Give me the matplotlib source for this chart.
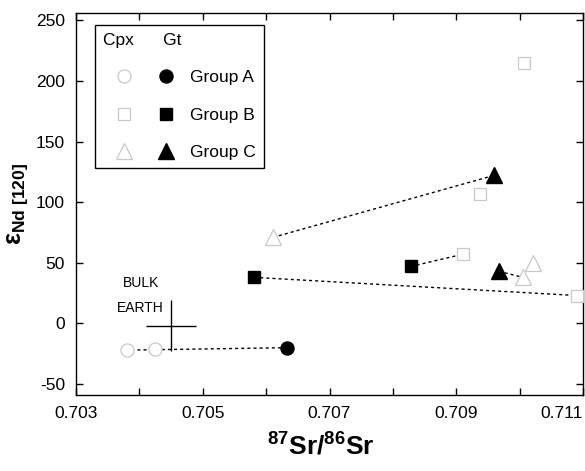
import numpy as np
import matplotlib
matplotlib.use("Agg")
import matplotlib.pyplot as plt
from matplotlib.legend_handler import HandlerTuple

plt.rcParams["font.family"] = ["Liberation Sans", "DejaVu Sans"]
plt.rcParams["mathtext.fontset"] = "custom"
plt.rcParams["mathtext.rm"] = "Liberation Sans"
plt.rcParams["mathtext.bf"] = "Liberation Sans:bold"
plt.rcParams["mathtext.it"] = "Liberation Sans:italic"
plt.rcParams["axes.unicode_minus"] = False

# garnet (filled) and clinopyroxene (open) analyses, 87Sr/86Sr vs eps Nd(120)
gt_a_x = [0.70633]
gt_a_y = [-20]
gt_b_x = [0.70581, 0.70828]
gt_b_y = [38, 47]
gt_c_x = [0.70959, 0.70967]
gt_c_y = [122, 43]

cpx_a_x = [0.70380, 0.70425]
cpx_a_y = [-22, -21]
cpx_b_x = [0.71090, 0.70910, 0.70937, 0.71007]
cpx_b_y = [23, 57, 107, 215]
cpx_c_x = [0.70611, 0.71005, 0.71021]
cpx_c_y = [71, 38, 50]

# tie lines: (gt group, gt index, cpx group, cpx index)
ties = [("A", 0, "A", 0), ("B", 0, "B", 0), ("B", 1, "B", 1),
        ("C", 0, "C", 0), ("C", 1, "C", 1)]

bulk_x, bulk_y = 0.7045, -2
bulk_dx, bulk_dy = 0.0004, 21

x_ticks = [0.703, 0.704, 0.705, 0.706, 0.707, 0.708, 0.709, 0.710, 0.711]
x_labels = ["0.703", "", "0.705", "", "0.707", "", "0.709", "", "0.711"]
y_ticks = [-50, 0, 50, 100, 150, 200, 250]

gt = {"A": (gt_a_x, gt_a_y), "B": (gt_b_x, gt_b_y), "C": (gt_c_x, gt_c_y)}
cpx = {"A": (cpx_a_x, cpx_a_y), "B": (cpx_b_x, cpx_b_y), "C": (cpx_c_x, cpx_c_y)}
markers = {"A": ("o", 9.4), "B": ("s", 8.6), "C": ("^", 12)}
faint = "#c8c8c8"

fig = plt.figure(figsize=(5.85, 4.71), dpi=100)
ax = fig.add_axes([0.130, 0.1614, 0.8666, 0.811])

for g1, i, g2, j in ties:
    ax.plot([gt[g1][0][i], cpx[g2][0][j]], [gt[g1][1][i], cpx[g2][1][j]],
            color="black", lw=1.0, ls=(0, (2.2, 2.2)), zorder=2)

ax.errorbar([bulk_x], [bulk_y], xerr=[bulk_dx], yerr=[bulk_dy], fmt="none",
            ecolor="black", elinewidth=1.0, capsize=0, zorder=2)
ax.text(0.70403, 33, "BULK", ha="center", va="center", fontsize=10)
ax.text(0.70402, 13, "EARTH", ha="center", va="center", fontsize=10)

handles = []
for g in ["A", "B", "C"]:
    m, ms = markers[g]
    h_open, = ax.plot(cpx[g][0], cpx[g][1], ls="none", marker=m, ms=ms,
                      mfc="white", mec=faint, mew=0.9, zorder=3, clip_on=False)
    h_fill, = ax.plot(gt[g][0], gt[g][1], ls="none", marker=m, ms=ms,
                      mfc="black", mec="black", zorder=4)
    handles.append((h_open, h_fill))

leg = ax.legend(handles, ["Group A", "Group B", "Group C"],
                handler_map={tuple: HandlerTuple(ndivide=None, pad=0)},
                title="Cpx      Gt", alignment="left", loc="upper left",
                bbox_to_anchor=(0.037, 0.968), fontsize=12.5, title_fontsize=12.5,
                handlelength=4.9, handletextpad=0.15, labelspacing=1.28,
                borderpad=0.45, borderaxespad=0, fancybox=False, framealpha=1,
                edgecolor="black")
leg.get_frame().set_linewidth(1.0)

ax.set_xlim(0.703, 0.711)
ax.set_ylim(-59, 256)
ax.set_xticks(x_ticks)
ax.set_xticklabels(x_labels)
ax.set_yticks(y_ticks)
ax.tick_params(direction="in", length=5, width=1, top=True, right=True,
               labelsize=12.5, pad=8)
ax.get_xticklabels()[-1].set_horizontalalignment("right")
for s in ax.spines.values():
    s.set_linewidth(1.0)

ax.set_xlabel(r"$\mathbf{^{87}Sr/^{86}Sr}$", fontsize=19, labelpad=5)
ax.xaxis.set_label_coords(0.483, -0.1)
ax.set_ylabel(r"$\mathbf{\epsilon_{Nd\ [120]}}$", fontsize=18, labelpad=4)

fig.savefig("out.png", dpi=100)
